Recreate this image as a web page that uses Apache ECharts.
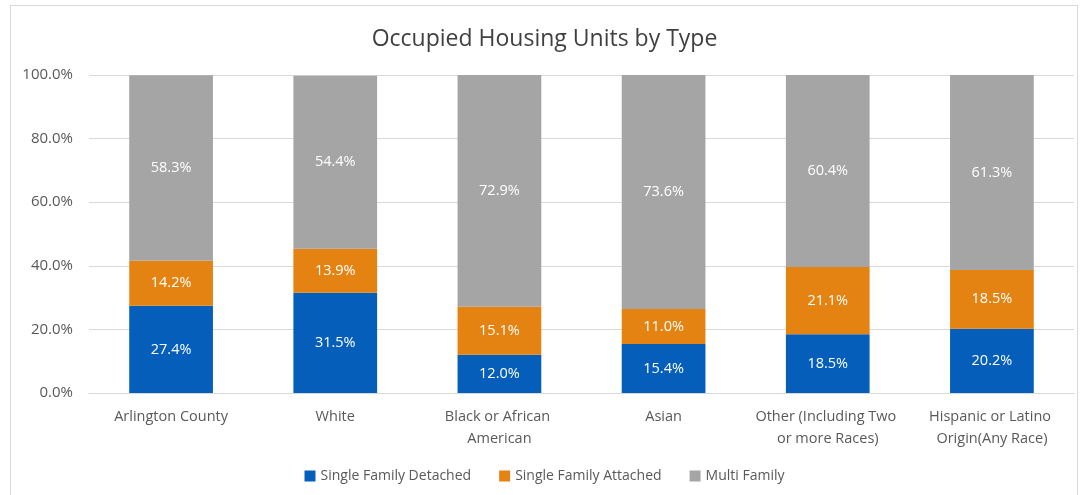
<!DOCTYPE html>
<html>
<head>
<meta charset="utf-8">
<script src="https://cdn.jsdelivr.net/npm/echarts@6/dist/echarts.min.js"></script>
<style>
  html, body { margin: 0; padding: 0; background: #fff; }
  #frame { position: absolute; left: 10px; top: 5px; width: 1068px; height: 500px; border: 1px solid #d9d9d9; box-sizing: border-box; }
  #chart { position: absolute; left: 0; top: 0; width: 1089px; height: 495px; }
</style>
</head>
<body>
<div id="frame"></div>
<div id="chart"></div>
<script>
var categories = ['Arlington County', 'White', 'Black or African American', 'Asian', 'Other (Including Two or more Races)', 'Hispanic or Latino Origin(Any Race)'];
var detached = [27.4, 31.5, 12.0, 15.4, 18.5, 20.2];
var attached = [14.2, 13.9, 15.1, 11.0, 21.1, 18.5];
var multi = [58.3, 54.4, 72.9, 73.6, 60.4, 61.3];

(function(){
    var chart = echarts.init(document.getElementById('chart'));
    var font = '"Open Sans", "Noto Sans", sans-serif';

    function bar(name, data, color) {
        return {
            name: name,
            type: 'bar',
            stack: 'total',
            barWidth: '51%',
            data: data,
            itemStyle: { color: color },
            label: {
                show: true,
                color: '#fff',
                fontFamily: font,
                fontSize: 14.5,
                formatter: function(p){ return p.value.toFixed(1) + '%'; }
            }
        };
    }

    var option = {
        animation: false,
        textStyle: { fontFamily: font },
        title: {
            text: 'Occupied Housing Units by Type',
            left: 'center',
            top: 23,
            textStyle: { fontSize: 23, fontWeight: 'normal', color: '#404040', fontFamily: font }
        },
        legend: {
            bottom: 7,
            left: 'center',
            itemWidth: 11,
            itemHeight: 11,
            itemGap: 28,
            icon: 'rect',
            textStyle: { fontSize: 14, color: '#595959', fontFamily: font },
            data: ['Single Family Detached', 'Single Family Attached', 'Multi Family']
        },
        grid: { left: 89, right: 15, top: 75, bottom: 102 },
        xAxis: {
            type: 'category',
            data: categories,
            axisTick: { show: false },
            axisLine: { lineStyle: { color: '#d9d9d9' } },
            axisLabel: {
                color: '#595959', fontSize: 14.5, fontFamily: font,
                interval: 0, width: 150, overflow: 'break', margin: 13, lineHeight: 22
            }
        },
        yAxis: {
            type: 'value',
            min: 0, max: 100, interval: 20,
            axisLabel: {
                color: '#595959', fontSize: 15, fontFamily: font, margin: 16,
                formatter: function(v){ return v.toFixed(1) + '%'; }
            },
            splitLine: { lineStyle: { color: '#d9d9d9' } }
        },
        series: [
            bar('Single Family Detached', detached, '#045EBA'),
            bar('Single Family Attached', attached, '#E48312'),
            bar('Multi Family', multi, '#A5A5A5')
        ]
    };

    chart.setOption(option);
})();
</script>
</body>
</html>
